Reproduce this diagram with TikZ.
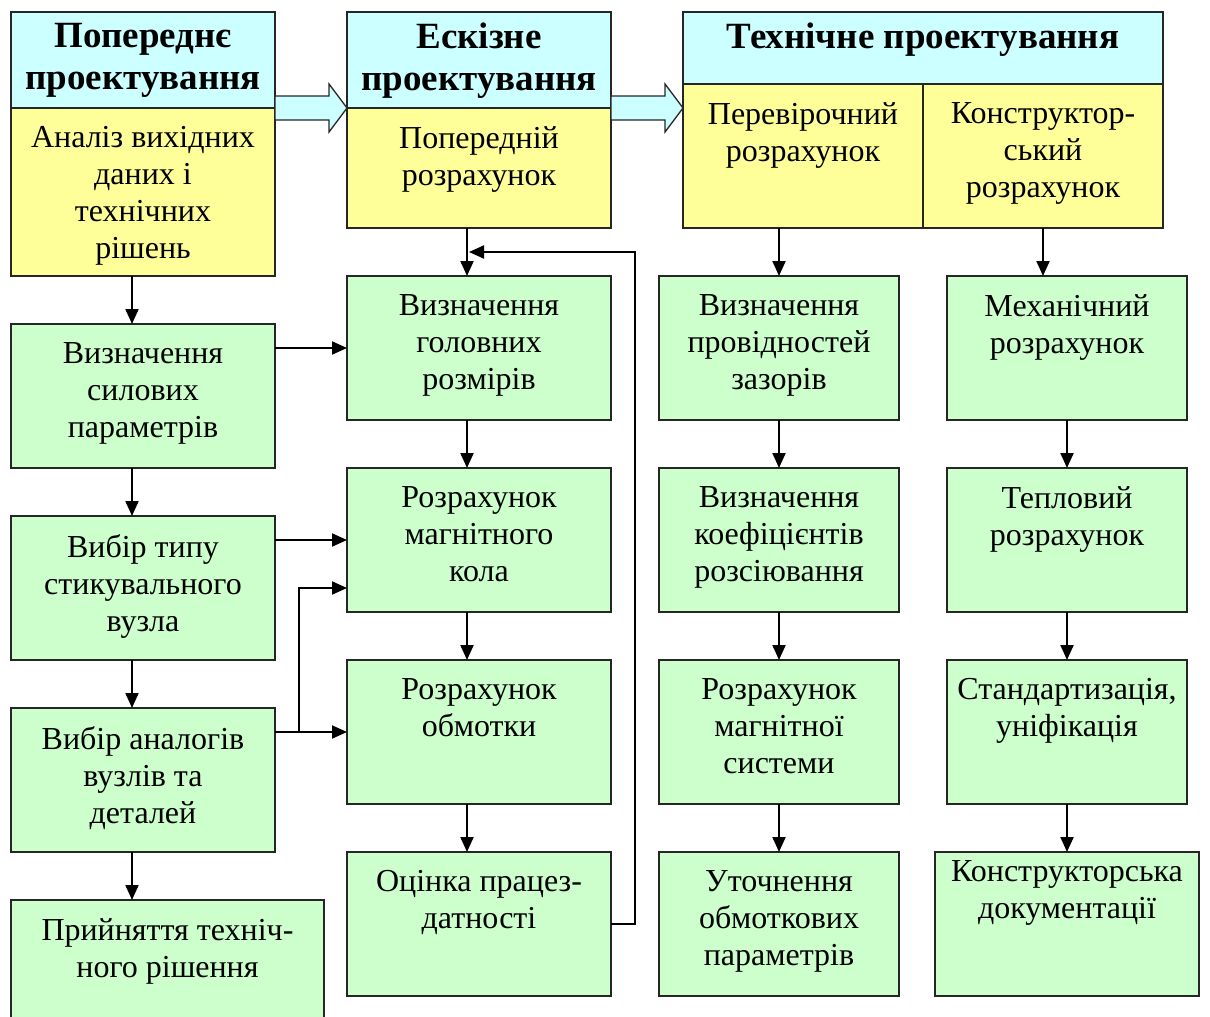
\documentclass[tikz,border=0pt]{standalone}
\usepackage{fontspec}
\setmainfont{Liberation Serif}
\usetikzlibrary{arrows.meta,calc}
\definecolor{hdcyan}{RGB}{204,255,255}
\definecolor{stepyel}{RGB}{255,255,153}
\definecolor{taskgrn}{RGB}{204,255,204}

\begin{document}
\begin{tikzpicture}[x=1pt,y=-1pt,
    box/.style = {draw=black!85, line width=1.3pt, minimum width=264pt, minimum height=144pt, inner sep=0pt, outer sep=0pt},
    cbox/.style = {box, fill=hdcyan},
    ybox/.style = {box, fill=stepyel},
    gbox/.style = {box, fill=taskgrn},
    lbl/.style = {anchor=north, align=center, inner sep=0pt, yshift=-18pt, font=\fontsize{32}{37}\selectfont},
    hd/.style = {anchor=north, align=center, inner sep=0pt, yshift=-11pt, font=\fontsize{37}{42}\selectfont\bfseries},
    arr/.style = {line width=2pt, -{Triangle[length=15pt,width=13pt]}},
    blk/.style = {draw=black!85, line width=1.3pt, fill=hdcyan}]
        \clip (0,0) rectangle (1210,1017);
        % попереднє проектування
        \node[cbox, minimum height=96pt, label={[hd]north:{Попереднє\\проектування}}] (ph) at (143,60) {};
        \node[ybox, minimum height=168pt, label={[lbl]north:{Аналіз вихідних\\даних і\\технічних\\рішень}}] (py) at (143,192) {};
        \node[gbox, label={[lbl]north:{Визначення\\силових\\параметрів}}] (p1) at (143,396) {};
        \node[gbox, label={[lbl]north:{Вибір типу\\стикувального\\вузла}}] (p2) at (143,588) {};
        \node[gbox, label={[lbl]north:{Вибір аналогів\\вузлів та\\деталей}}] (p3) at (143,780) {};
        \node[gbox, minimum width=313pt, minimum height=130pt, label={[lbl]north:{Прийняття техніч-\\ного рішення}}] (p4) at (167.5,965) {};
        % ескізне проектування
        \node[cbox, minimum height=96pt, label={[hd]north:{Ескізне\\проектування}}] (eh) at (479,60) {};
        \node[ybox, minimum height=120pt, label={[lbl]north:{Попередній\\розрахунок}}] (ey) at (479,168) {};
        \node[gbox, label={[lbl]north:{Визначення\\головних\\розмірів}}] (e1) at (479,348) {};
        \node[gbox, label={[lbl]north:{Розрахунок\\магнітного\\кола}}] (e2) at (479,540) {};
        \node[gbox, label={[lbl]north:{Розрахунок\\обмотки}}] (e3) at (479,732) {};
        \node[gbox, label={[lbl]north:{Оцінка працез-\\датності}}] (e4) at (479,924) {};
        % технічне проектування
        \node[cbox, minimum width=480pt, minimum height=72pt, label={[hd]north:{Технічне проектування}}] (th) at (923,48) {};
        \node[ybox, minimum width=240pt, label={[lbl]north:{Перевірочний\\розрахунок}}] (ty1) at (803,156) {};
        \node[ybox, minimum width=240pt, label={[lbl]north:{Конструктор-\\ський\\розрахунок}}] (ty2) at (1043,156) {};
        \node[gbox, minimum width=240pt, label={[lbl]north:{Визначення\\провідностей\\зазорів}}] (t1) at (779,348) {};
        \node[gbox, minimum width=240pt, label={[lbl]north:{Визначення\\коефіцієнтів\\розсіювання}}] (t2) at (779,540) {};
        \node[gbox, minimum width=240pt, label={[lbl]north:{Розрахунок\\магнітної\\системи}}] (t3) at (779,732) {};
        \node[gbox, minimum width=240pt, label={[lbl]north:{Уточнення\\обмоткових\\параметрів}}] (t4) at (779,924) {};
        \node[gbox, minimum width=240pt, label={[lbl]north:{Механічний\\розрахунок}}] (k1) at (1067,348) {};
        \node[gbox, minimum width=240pt, label={[lbl]north:{Тепловий\\розрахунок}}] (k2) at (1067,540) {};
        \node[gbox, minimum width=240pt, label={[lbl]north:{Стандартизація,\\уніфікація}}] (k3) at (1067,732) {};
        \node[gbox, label={[lbl, yshift=10pt]north:{Конструкторська\\документації}}] (k4) at (1067,924) {};
        % великі стрілки
        \draw[blk] (ph.south east) -- ++(0,-12) -- ++(54,0) -- ++(0,-12) -- ++(18,24) -- ++(-18,24) -- ++(0,-12) -- ++(-54,0) -- cycle;
        \draw[blk] (eh.south east) -- ++(0,-12) -- ++(54,0) -- ++(0,-12) -- ++(18,24) -- ++(-18,24) -- ++(0,-12) -- ++(-54,0) -- cycle;
        % стрілки
        \draw[arr] ($(py.south)+(-11,0)$) -- ($(p1.north)+(-11,0)$);
        \draw[arr] ($(p1.south)+(-11,0)$) -- ($(p2.north)+(-11,0)$);
        \draw[arr] ($(p2.south)+(-11,0)$) -- ($(p3.north)+(-11,0)$);
        \coordinate (p3s) at ($(p3.south)+(-11,0)$);
        \draw[arr] (p3s) -- (p3s |- p4.north);
        \draw[arr] (p1.east |- e1.west) -- (e1.west);
        \draw[arr] (p2.east |- e2.west) -- (e2.west);
        \draw[arr] (p3.east |- e3.west) -- (e3.west);
        \coordinate (jn) at ($(p3.east |- e3.west)+(24,0)$);
        \draw[arr] (jn) |- ($(e2.west)+(0,48)$);
        \draw[arr] ($(ey.south)+(-12,0)$) -- ($(e1.north)+(-12,0)$);
        \draw[arr] ($(e1.south)+(-12,0)$) -- ($(e2.north)+(-12,0)$);
        \draw[arr] ($(e2.south)+(-12,0)$) -- ($(e3.north)+(-12,0)$);
        \draw[arr] ($(e3.south)+(-12,0)$) -- ($(e4.north)+(-12,0)$);
        \coordinate (fb) at ($(ey.south)+(-10,24)$);
        \draw[arr] (e4.east) -- ++(24,0) |- (fb);
        \draw[arr] (t1.north |- ty1.south) -- (t1.north);
        \draw[arr] (t1.south) -- (t2.north);
        \draw[arr] (t2.south) -- (t3.north);
        \draw[arr] (t3.south) -- (t4.north);
        \draw[arr] (ty2.south) -- (ty2.south |- k1.north);
        \draw[arr] (k1.south) -- (k2.north);
        \draw[arr] (k2.south) -- (k3.north);
        \draw[arr] (k3.south) -- (k4.north);
\end{tikzpicture}
\end{document}
